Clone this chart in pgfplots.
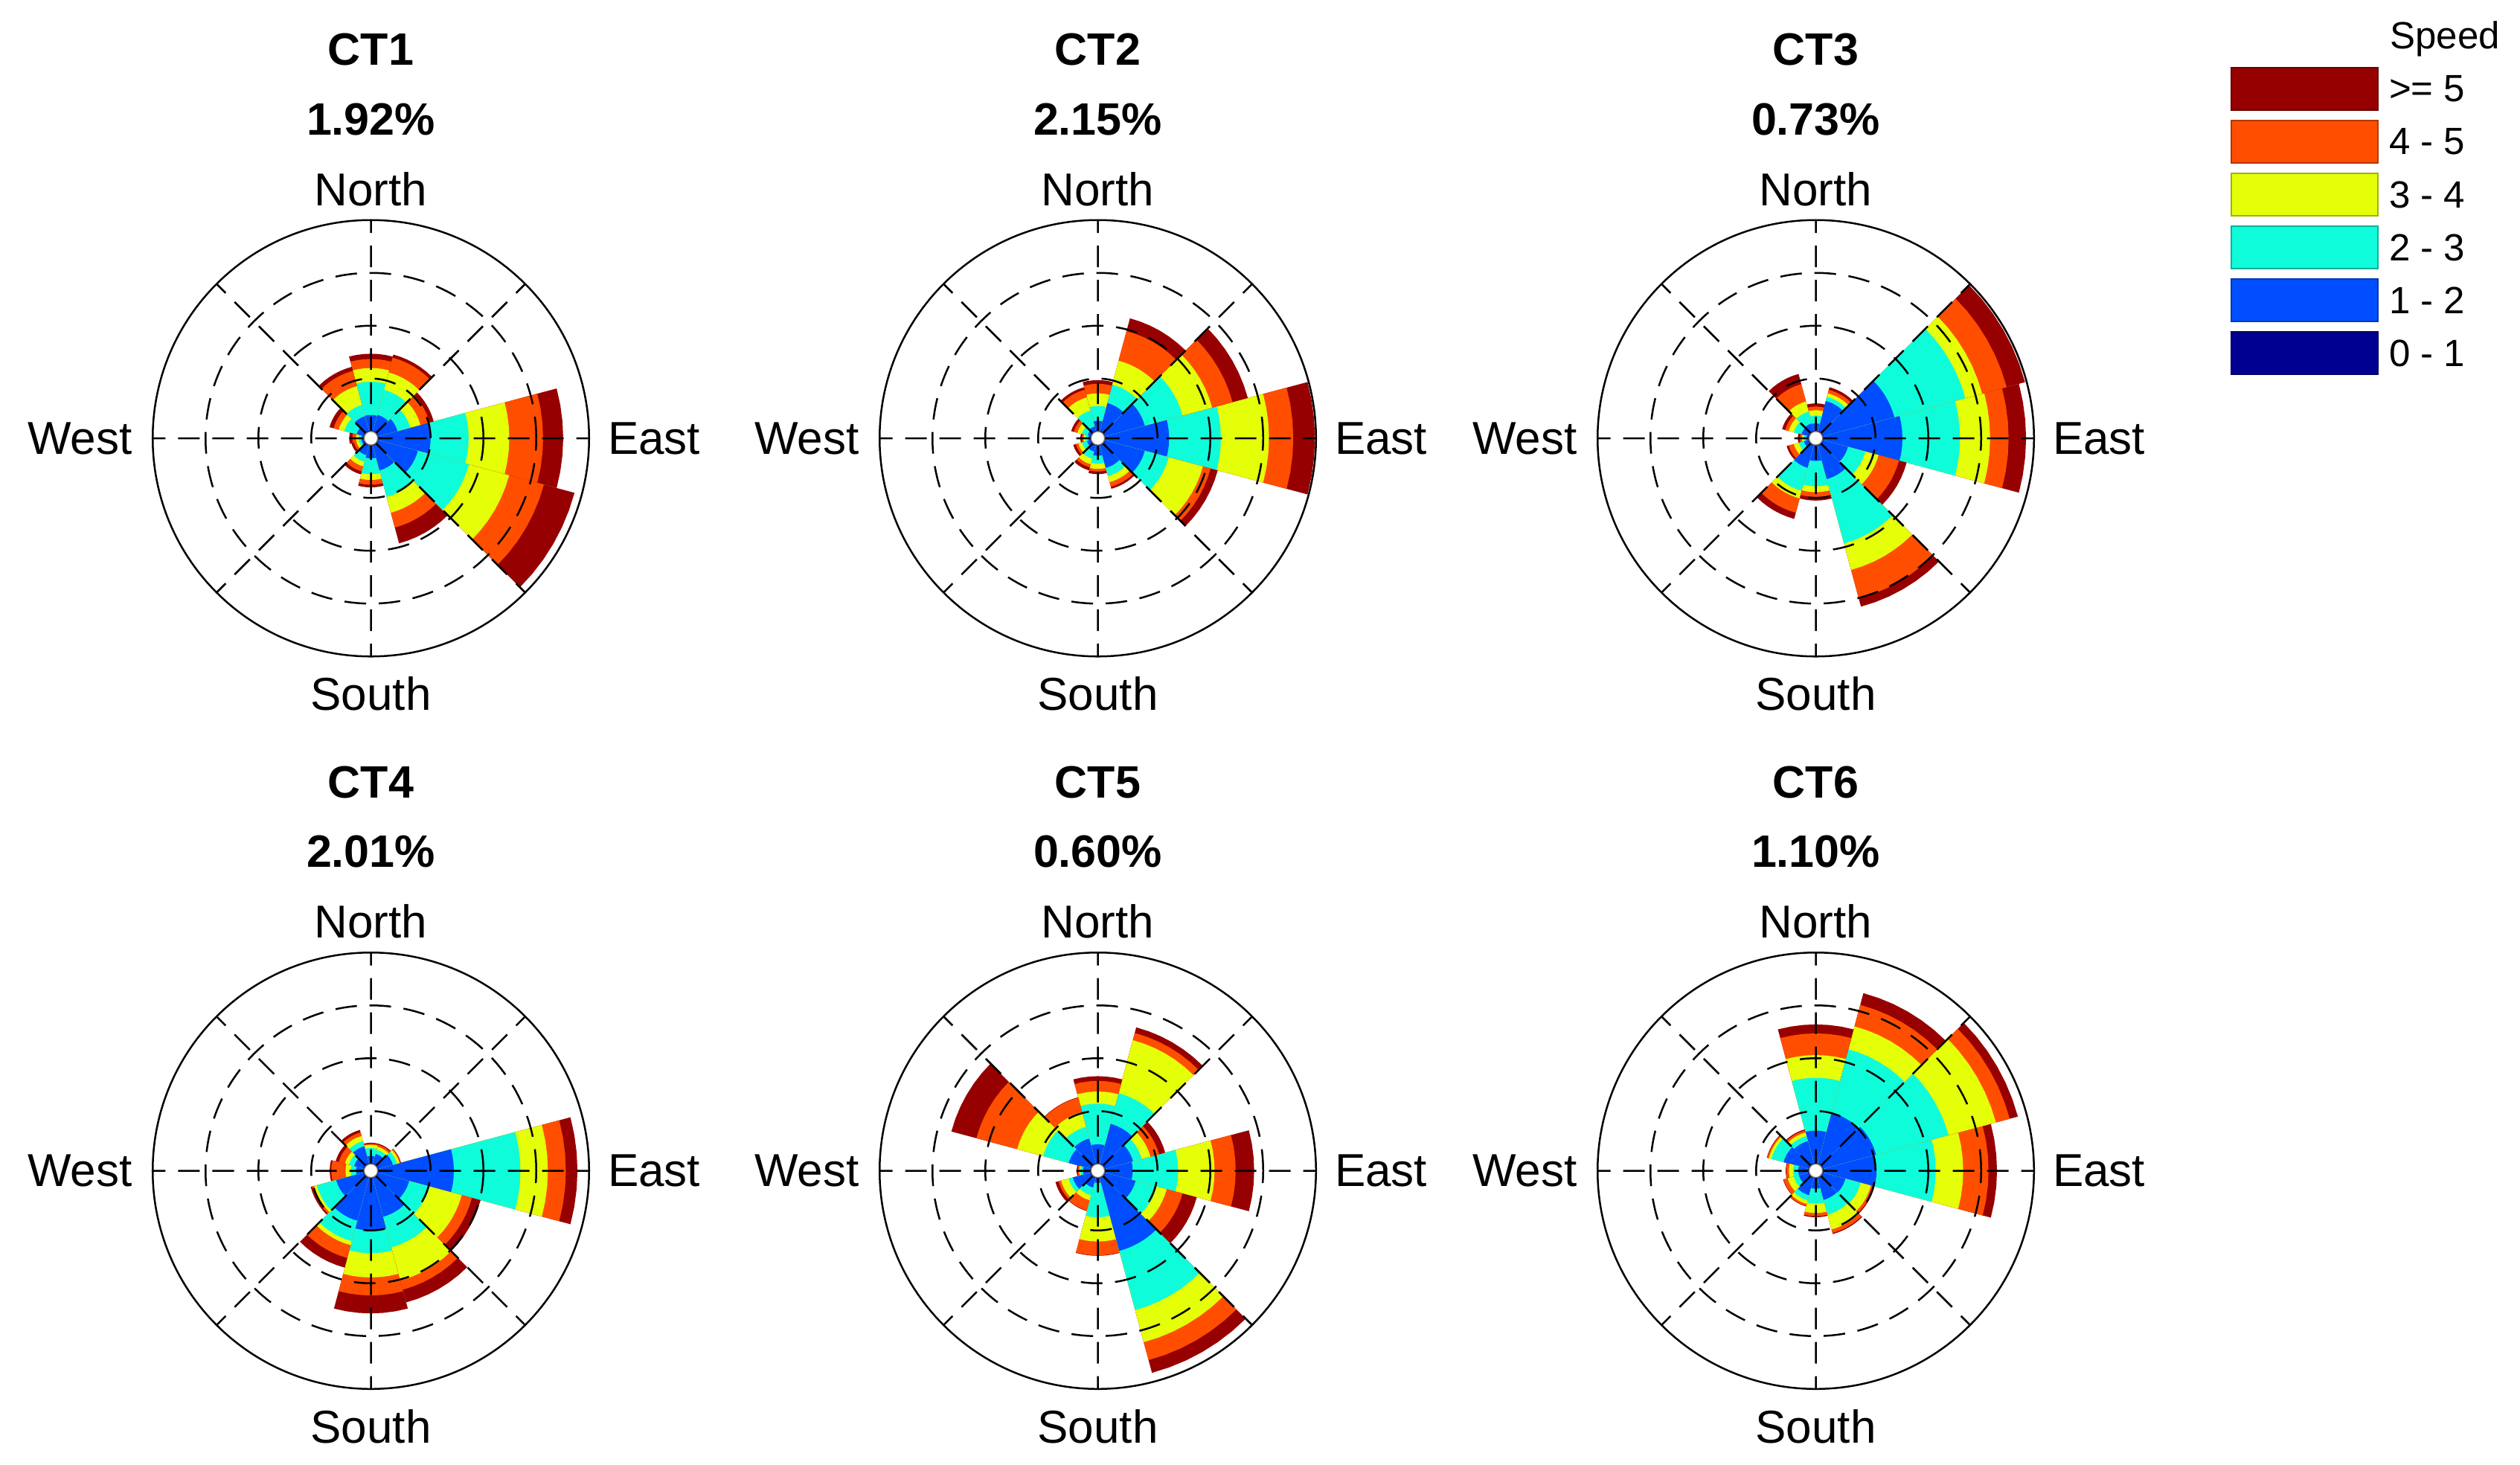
\documentclass[border=0pt]{standalone}
\usepackage{fontspec}
\setmainfont{Liberation Sans}
\usepackage{pgfplots}
\usepackage{pgfplotstable}
\pgfplotsset{compat=1.18}
\usepgfplotslibrary{polar}

\definecolor{c0}{RGB}{0,0,144}
\definecolor{c1}{RGB}{0,78,255}
\definecolor{c2}{RGB}{15,252,218}
\definecolor{c3}{RGB}{228,255,8}
\definecolor{c4}{RGB}{255,78,0}
\definecolor{c5}{RGB}{150,0,0}

\newcommand{\titlefont}{\fontsize{12.2}{14}\selectfont\bfseries}
\newcommand{\lblfont}{\fontsize{12.4}{14}\selectfont}
\newcommand{\legfont}{\fontsize{10.2}{12}\selectfont}

% outer radius of each speed class (cumulative, in grid-ring units); ang = direction (deg, 0 = East, ccw)
\pgfplotstableread{
ang b0 b1 b2 b3 b4 b5
0   0.02 1.00 1.72 2.49 3.13 3.51
30  0.02 0.39 0.64 0.84 1.02 1.10
60  0.02 0.33 0.82 1.16 1.45 1.51
90  0.02 0.31 0.94 1.20 1.37 1.47
120 0.02 0.30 0.52 0.89 1.19 1.27
150 0.02 0.15 0.39 0.50 0.60 0.68
180 0.02 0.05 0.10 0.15 0.22 0.28
210 0.02 0.05 0.10 0.15 0.20 0.25
240 0.02 0.20 0.33 0.42 0.52 0.58
270 0.02 0.25 0.55 0.66 0.75 0.80
300 0.02 0.50 1.02 1.33 1.62 1.93
330 0.02 0.79 1.79 2.58 3.26 3.86
}\ctA
\pgfplotstableread{
ang b0 b1 b2 b3 b4 b5
0   0.02 1.22 2.20 3.11 3.57 3.98
30  0.02 0.79 1.53 2.11 2.51 2.81
60  0.02 0.56 0.92 1.39 1.97 2.22
90  0.02 0.20 0.48 0.72 0.90 0.97
120 0.02 0.10 0.41 0.67 0.82 0.87
150 0.02 0.07 0.18 0.27 0.34 0.39
180 0.02 0.05 0.10 0.14 0.17 0.20
210 0.02 0.08 0.18 0.25 0.30 0.35
240 0.02 0.13 0.27 0.38 0.44 0.50
270 0.02 0.20 0.35 0.45 0.50 0.55
300 0.02 0.45 0.61 0.73 0.82 0.86
330 0.02 0.79 1.26 1.93 2.08 2.22
}\ctB
\pgfplotstableread{
ang b0 b1 b2 b3 b4 b5
0   0.02 1.51 2.60 3.17 3.52 3.85
30  0.02 1.41 2.80 3.13 3.61 3.97
60  0.02 0.60 0.68 0.75 0.82 0.87
90  0.02 0.15 0.30 0.40 0.47 0.53
120 0.02 0.16 0.39 0.59 0.93 1.13
150 0.02 0.15 0.30 0.40 0.47 0.53
180 0.02 0.05 0.10 0.13 0.17 0.21
210 0.02 0.10 0.20 0.30 0.40 0.44
240 0.02 0.45 0.90 1.05 1.33 1.45
270 0.02 0.30 0.78 0.89 0.98 1.05
300 0.02 0.67 1.93 2.45 3.01 3.17
330 0.02 0.50 0.84 1.10 1.50 1.65
}\ctC
\pgfplotstableread{
ang b0 b1 b2 b3 b4 b5
0   0.02 1.44 2.70 3.22 3.56 3.78
30  0.02 0.30 0.38 0.43 0.45 0.46
60  0.02 0.20 0.28 0.34 0.38 0.40
90  0.02 0.15 0.30 0.36 0.38 0.40
120 0.02 0.35 0.45 0.55 0.62 0.67
150 0.02 0.20 0.30 0.38 0.50 0.56
180 0.02 0.15 0.25 0.35 0.62 0.65
210 0.02 0.55 0.93 0.98 1.02 1.05
240 0.02 0.85 1.25 1.33 1.58 1.77
270 0.02 1.00 1.43 1.89 2.23 2.57
300 0.02 0.77 1.37 2.02 2.20 2.45
330 0.02 0.62 1.02 1.65 1.85 2.02
}\ctD
\pgfplotstableread{
ang b0 b1 b2 b3 b4 b5
0   0.02 0.53 1.39 2.08 2.48 2.83
30  0.02 0.56 0.73 0.90 1.07 1.19
60  0.02 0.79 1.39 2.43 2.57 2.68
90  0.02 0.37 1.14 1.37 1.57 1.66
120 0.02 0.50 0.73 1.02 1.30 1.31
150 0.02 0.44 0.94 1.45 2.25 2.74
180 0.02 0.15 0.20 0.22 0.25 0.27
210 0.02 0.36 0.44 0.59 0.64 0.70
240 0.02 0.20 0.35 0.45 0.65 0.66
270 0.02 0.10 0.75 1.21 1.47 1.48
300 0.02 1.44 2.60 3.23 3.58 3.83
330 0.02 0.61 1.02 1.22 1.53 1.81
}\ctE
\pgfplotstableread{
ang b0 b1 b2 b3 b4 b5
0   0.02 1.02 2.14 2.66 3.14 3.30
30  0.02 1.05 2.47 3.40 3.67 3.83
60  0.02 1.01 2.25 2.70 3.12 3.35
90  0.02 0.63 1.63 2.06 2.47 2.64
120 0.02 0.45 0.55 0.62 0.66 0.68
150 0.02 0.50 0.74 0.79 0.82 0.83
180 0.02 0.20 0.30 0.38 0.43 0.44
210 0.02 0.20 0.30 0.42 0.50 0.51
240 0.02 0.35 0.45 0.52 0.56 0.57
270 0.02 0.21 0.49 0.67 0.73 0.75
300 0.02 0.44 0.73 1.02 1.09 1.11
330 0.02 0.45 0.75 0.95 1.00 1.02
}\ctF

% one filled wedge (center to outer radius of class #2) for table row \rr
\newcommand{\wedgeclass}[2]{%
  \pgfplotstablegetelem{\rr}{b#2}\of{#1}%
  \pgfmathsetmacro{\rad}{\pgfplotsretval+0.13}%
  \edef\cmd{\noexpand\addplot[fill=c#2,draw=none,forget plot] coordinates {(\aA,0) (\aA,\rad) (\aB,\rad) (\aC,\rad) (\aD,\rad) (\aE,\rad) (\aF,\rad) (\aG,\rad) (\aG,0)};}%
  \cmd
}
\newcommand{\drawrose}[1]{%
  \pgfplotsforeachungrouped \rr in {0,...,11}{%
    \pgfplotstablegetelem{\rr}{ang}\of{#1}%
    \pgfmathsetmacro{\aA}{\pgfplotsretval-15}%
    \pgfmathsetmacro{\aB}{\aA+5}%
    \pgfmathsetmacro{\aC}{\aA+10}%
    \pgfmathsetmacro{\aD}{\aA+15}%
    \pgfmathsetmacro{\aE}{\aA+20}%
    \pgfmathsetmacro{\aF}{\aA+25}%
    \pgfmathsetmacro{\aG}{\aA+30}%
    \wedgeclass{#1}{5}\wedgeclass{#1}{4}\wedgeclass{#1}{3}%
    \wedgeclass{#1}{2}\wedgeclass{#1}{1}\wedgeclass{#1}{0}%
  }%
}

\pgfplotsset{windrose/.style={
  width=117.3pt, height=117.3pt, scale only axis,
  anchor=center,
  ymin=0, ymax=4.13,
  xtick={0,45,...,315}, ytick={1.13,2.13,3.13},
  xticklabels={}, yticklabels={},
  major tick length=0pt,
  xmajorgrids=true, ymajorgrids=true,
  major grid style={black, line width=0.5pt, dash pattern=on 5.8pt off 3.4pt},
  axis line style={black, line width=0.5pt},
  y axis line style={draw=none},
  axis on top,
  clip=false,
}}

\newcommand{\rose}[5]{%
  \begin{polaraxis}[windrose, at={(#1,#2)}]
    \drawrose{#3}
  \end{polaraxis}
  \fill[white] (#1,#2) circle (1.85pt);
  \draw[black!55, line width=0.3pt] (#1,#2) circle (1.85pt);
  \path (#1,#2) ++(0,100.3pt) node[anchor=base, font=\titlefont, inner sep=0pt] {#4};
  \path (#1,#2) ++(0,81.6pt) node[anchor=base, font=\titlefont, inner sep=0pt] {#5};
  \path (#1,#2) ++(0,62.6pt) node[anchor=base, font=\lblfont, inner sep=0pt] {North};
  \path (#1,#2) ++(0,-64pt) node[anchor=north, font=\lblfont, inner sep=0pt] {South};
  \path (#1,#2) ++(-64pt,0) node[anchor=east, font=\lblfont, inner sep=0pt] {West};
  \path (#1,#2) ++(63.5pt,0) node[anchor=west, font=\lblfont, inner sep=0pt] {East};
}

\begin{document}
\begin{tikzpicture}
\useasboundingbox (0,0) rectangle (677.4pt,-393.6pt);
\rose{99.7pt}{-117.8pt}{\ctA}{CT1}{1.92\%}
\rose{295.1pt}{-117.8pt}{\ctB}{CT2}{2.15\%}
\rose{488.1pt}{-117.8pt}{\ctC}{CT3}{0.73\%}
\rose{99.7pt}{-314.7pt}{\ctD}{CT4}{2.01\%}
\rose{295.1pt}{-314.7pt}{\ctE}{CT5}{0.60\%}
\rose{488.1pt}{-314.7pt}{\ctF}{CT6}{1.10\%}
% legend
\node[anchor=base east, font=\legfont, inner sep=0pt] at (672.2pt,-13.1pt) {Speed};
\foreach \cc/\lab [count=\n from 0] in {c5/{>= 5}, c4/{4 - 5}, c3/{3 - 4}, c2/{2 - 3}, c1/{1 - 2}, c0/{0 - 1}}{
  \pgfmathsetmacro{\ytop}{-18.2-14.2*\n}
  \pgfmathsetmacro{\ybot}{\ytop-11.4}
  \pgfmathsetmacro{\ymid}{\ytop-5.7}
  \draw[fill=\cc, draw=\cc!70!black, line width=0.4pt] (599.8pt,\ytop pt) rectangle (639.2pt,\ybot pt);
  \node[anchor=west, font=\legfont, inner sep=0pt] at (642pt,\ymid pt) {\lab};
}
\end{tikzpicture}
\end{document}
